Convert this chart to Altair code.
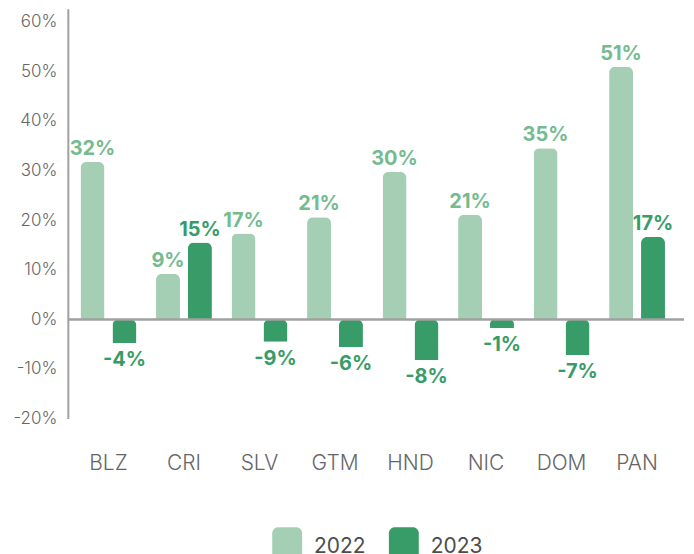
import altair as alt
import pandas as pd

countries = ["BLZ", "CRI", "SLV", "GTM", "HND", "NIC", "DOM", "PAN"]
years = ["2022", "2023"]
values_2022 = [31.7, 9.2, 17.3, 20.6, 29.7, 21.1, 34.5, 50.9]
values_2023 = [-4.8, 15.5, -4.5, -5.6, -8.2, -1.8, -7.2, 16.6]
labels_2022 = ["32%", "9%", "17%", "21%", "30%", "21%", "35%", "51%"]
labels_2023 = ["-4%", "15%", "-9%", "-6%", "-8%", "-1%", "-7%", "17%"]
y_ticks = [-0.2, -0.1, 0.0, 0.1, 0.2, 0.3, 0.4, 0.5, 0.6]

rows = []
for c, v, l in zip(countries, values_2022, labels_2022):
    rows.append({"country": c, "year": "2022", "value": v / 100, "label": l})
for c, v, l in zip(countries, values_2023, labels_2023):
    rows.append({"country": c, "year": "2023", "value": v / 100, "label": l})
df = pd.DataFrame(rows)

LIGHT = "#a4cfb4"
DARK = "#389c69"
LIGHT_TXT = "#74bb90"
FONT = "Inter"

# rounded rectangle, 30 x 40 px at size 1600
ROUND_RECT = ("M-0.45,-1H0.45A0.3,0.3,0,0,1,0.75,-0.7V0.7A0.3,0.3,0,0,1,0.45,1"
              "H-0.45A0.3,0.3,0,0,1,-0.75,0.7V-0.7A0.3,0.3,0,0,1,-0.45,-1Z")

x_enc = alt.X("country:N", sort=countries, title=None,
              scale=alt.Scale(paddingInner=0.26, paddingOuter=0.21, align=0.4),
              axis=alt.Axis(domain=False, ticks=False, labelAngle=0, labelFont=FONT,
                            labelFontSize=21, labelFontWeight=300, labelColor="#666666",
                            labelPadding=34))
y_scale = alt.Scale(domain=[-0.2, 0.626], nice=False, zero=False)
y_enc = alt.Y("value:Q", scale=y_scale, title=None,
              axis=alt.Axis(values=y_ticks, grid=False, ticks=False,
                            labelExpr="datum.value < 0 ? '-' + format(-datum.value, '.0%') : format(datum.value, '.0%')",
                            domain=True, domainColor="#a0a0a0", domainWidth=2,
                            labelFont=FONT, labelFontSize=17, labelFontWeight=300,
                            labelColor="#666666", labelPadding=11,
                            minExtent=60, maxExtent=60))
xoff = alt.XOffset("year:N", sort=years, scale=alt.Scale(paddingInner=0.25, paddingOuter=0))

bars = alt.Chart(df).mark_bar(cornerRadiusEnd=6).encode(
    x=x_enc,
    xOffset=xoff,
    y=y_enc,
    color=alt.Color("year:N", sort=years,
                    scale=alt.Scale(domain=years, range=[LIGHT, DARK]),
                    legend=alt.Legend(title=None, orient="none", direction="horizontal",
                                      legendX=200, legendY=520,
                                      symbolType=ROUND_RECT, symbolSize=1600,
                                      symbolStrokeWidth=0, symbolOpacity=1,
                                      labelFont=FONT, labelFontSize=21,
                                      labelColor="#4d4d4d", labelOffset=7,
                                      columnPadding=18)),
)

txt_color = alt.condition(alt.datum.year == "2022", alt.value(LIGHT_TXT), alt.value(DARK))

pos_labels = alt.Chart(df).transform_filter(alt.datum.value >= 0).mark_text(
    baseline="middle", dy=-13, font=FONT, fontSize=20, fontWeight="bold"
).encode(x=alt.X("country:N", sort=countries), xOffset=xoff,
         y=alt.Y("value:Q", scale=y_scale), text="label:N", color=txt_color)

neg_labels = alt.Chart(df).transform_filter(alt.datum.value < 0).mark_text(
    baseline="middle", dy=17, font=FONT, fontSize=20, fontWeight="bold"
).encode(x=alt.X("country:N", sort=countries), xOffset=xoff,
         y=alt.Y("value:Q", scale=y_scale), text="label:N", color=txt_color)

zero_df = pd.DataFrame({"zero": [0.0]})
zero_line = alt.Chart(zero_df).mark_rule(color="#a0a0a0", strokeWidth=2.5).encode(
    y=alt.Y("zero:Q", scale=y_scale)
)

chart = alt.layer(bars, zero_line, pos_labels, neg_labels).properties(
    width=618, height=411, background="white",
    padding={"left": 0, "top": 0, "right": 0, "bottom": 0},
).configure_view(strokeWidth=0, stroke="transparent")

chart.save("out.html", embed_options={"renderer": "svg", "actions": False})
